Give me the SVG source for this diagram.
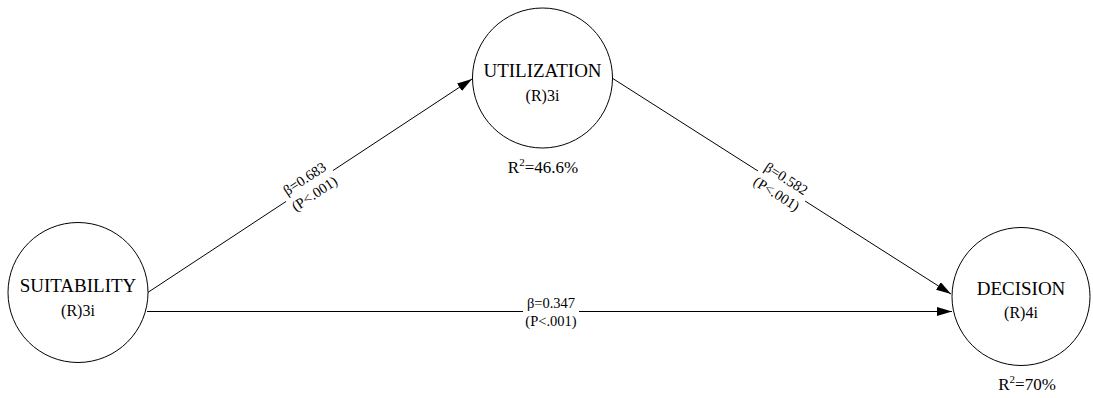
<svg xmlns="http://www.w3.org/2000/svg" width="1093" height="398" viewBox="0 0 1093 398">
  <style>
    text { font-family: 'Liberation Serif', 'DejaVu Serif', serif; fill: #000; text-anchor: middle; }
    .node { fill: #ffffff; stroke: #000000; stroke-width: 1; }
    .name { font-size: 19px; }
    .sub { font-size: 16px; }
    .r2 { font-size: 17px; }
    .edge { stroke: #000000; stroke-width: 1; fill: none; marker-end: url(#arrow); }
    .elab { font-size: 14.5px; }
    .lbg { fill: #ffffff; }
  </style>
  <defs>
    <marker id="arrow" viewBox="0 0 15 9" refX="15" refY="4.5" markerWidth="15" markerHeight="9" markerUnits="userSpaceOnUse" orient="auto">
      <path d="M0,0 L15,4.5 L0,9 z" fill="#000"/>
    </marker>
  </defs>
  <rect width="1093" height="398" fill="#ffffff"/>

  <!-- paths between constructs -->
  <g id="connectors">
    <line class="edge" x1="147" y1="293" x2="472" y2="79"/>
    <line class="edge" x1="612" y1="78" x2="951" y2="294"/>
    <line class="edge" x1="147" y1="311.5" x2="952" y2="311.5"/>

    <g transform="translate(309.5,186) rotate(-33.4)">
      <rect class="lbg" x="-28" y="-15" width="56" height="33"/>
      <text class="elab" x="0" y="-4">β=0.683</text>
      <text class="elab" x="0" y="14">(P&lt;.001)</text>
    </g>
    <g transform="translate(781.5,186) rotate(32.5)">
      <rect class="lbg" x="-28" y="-15" width="56" height="33"/>
      <text class="elab" x="0" y="-4">β=0.582</text>
      <text class="elab" x="0" y="14">(P&lt;.001)</text>
    </g>
    <g transform="translate(551,311.5)">
      <rect class="lbg" x="-28" y="-15" width="56" height="33"/>
      <text class="elab" x="0" y="-4">β=0.347</text>
      <text class="elab" x="0" y="14">(P&lt;.001)</text>
    </g>
  </g>

  <g id="suitability">
    <circle class="node" cx="78" cy="292.5" r="70"/>
    <text class="name" x="78" y="292">SUITABILITY</text>
    <text class="sub" x="78" y="316">(R)3i</text>
  </g>

  <g id="utilization">
    <circle class="node" cx="542.5" cy="78" r="70"/>
    <text class="name" x="542.5" y="77">UTILIZATION</text>
    <text class="sub" x="542.5" y="101">(R)3i</text>
    <text class="r2" x="543" y="173">R<tspan font-size="11" dy="-7">2</tspan><tspan dy="7">=46.6%</tspan></text>
  </g>

  <g id="decision">
    <circle class="node" cx="1021" cy="296.5" r="69"/>
    <text class="name" x="1021" y="295">DECISION</text>
    <text class="sub" x="1021" y="318">(R)4i</text>
    <text class="r2" x="1027" y="390">R<tspan font-size="11" dy="-7">2</tspan><tspan dy="7">=70%</tspan></text>
  </g>
</svg>
